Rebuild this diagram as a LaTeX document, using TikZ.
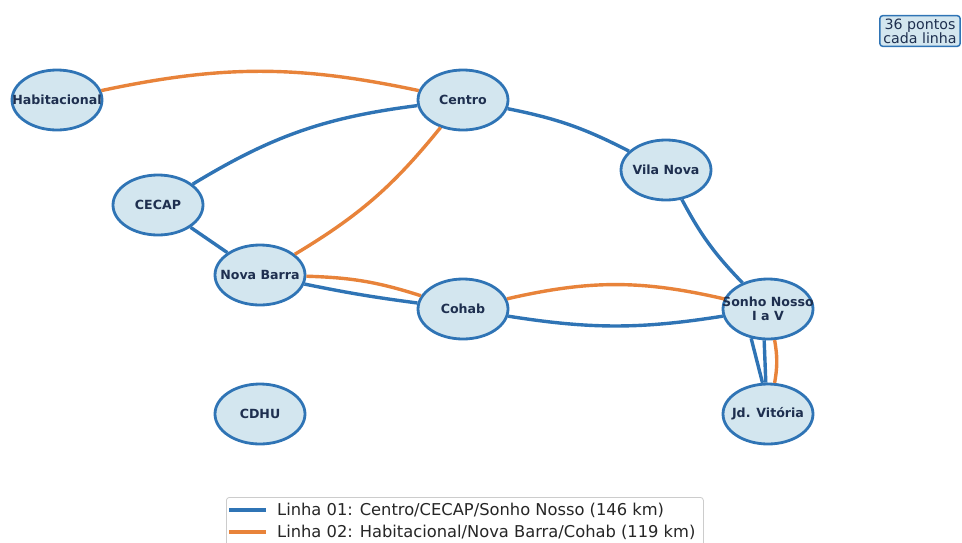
\documentclass[tikz,border=0pt]{standalone}
\usepackage{fontspec}
\setmainfont{DejaVu Sans}
\usepackage{tikz}
\usetikzlibrary{shapes.geometric}
\definecolor{edge}{HTML}{2F74B5}
\definecolor{fillc}{HTML}{D3E6EF}
\definecolor{ink}{HTML}{1E2F4F}
\definecolor{linhaA}{HTML}{2F74B5}
\definecolor{linhaB}{HTML}{E8833A}
\definecolor{frame}{HTML}{CCCCCC}
\definecolor{legink}{HTML}{262626}
\newcommand{\nome}[1]{\makebox[0pt]{#1}}
\tikzset{
  bairro/.style={ellipse, draw=edge, fill=fillc, line width=2.8pt, minimum width=90pt, minimum height=60pt, inner sep=0pt, text=ink, font=\fontsize{12.6}{14}\selectfont\bfseries, align=center},
  lineA/.style={line width=3.4pt, draw=linhaA},
  lineB/.style={line width=3.4pt, draw=linhaB},
  legbox/.style={draw=frame, fill=white, rounded corners=3pt, line width=0.8pt},
  note/.style={draw=edge, fill=fillc, rounded corners=3pt, line width=1.5pt, text=ink, font=\fontsize{14.2}{14}\selectfont, align=center, inner xsep=3.5pt, inner ysep=3pt},
  legtxt/.style={anchor=west, font=\fontsize{16.3}{16}\selectfont, text=legink, inner sep=0pt}
}

\begin{document}
\begin{tikzpicture}[x=1pt,y=1pt]
  \useasboundingbox (0,0) rectangle (962,-542);
  \clip (0,0) rectangle (962,-542);

  % bairros
  \node[bairro] (hab)   at (57,-100)  {\nome{Habitacional}};
  \node[bairro] (cen)   at (463,-100) {\nome{Centro}};
  \node[bairro] (cecap) at (158,-205) {\nome{CECAP}};
  \node[bairro] (vila)  at (666,-170) {\nome{Vila Nova}};
  \node[bairro] (nb)    at (260,-275) {\nome{Nova Barra}};
  \node[bairro] (cohab) at (463,-309) {\nome{Cohab}};
  \node[bairro] (sonho) at (768,-309) {\nome{Sonho Nosso}\\\nome{I a V}};
  \node[bairro] (cdhu)  at (260,-414) {\nome{CDHU}};
  \node[bairro] (jd)    at (768,-414) {\nome{Jd. Vitória}};

  % linha 02
  \draw[lineB] (hab) to[bend left=12] (cen);
  \draw[lineB] (cen) to[bend left=10] (nb);
  \draw[lineB] (nb) to[bend left=8] (cohab);
  \draw[lineB] (cohab) to[bend left=13] (sonho);
  \draw[lineB] (sonho.282) to[bend left=10] (jd.78);

  % linha 01
  \draw[lineA] (cecap) to[bend left=12] (cen);
  \draw[lineA] (cecap) -- (nb);
  \draw[lineA] (nb) to[bend right=2] (cohab);
  \draw[lineA] (cohab) to[bend right=9] (sonho);
  \draw[lineA] (cen) to[bend left=8] (vila);
  \draw[lineA] (vila) to[bend right=8] (sonho);
  \draw[lineA] (sonho.240) -- (jd.100);
  \draw[lineA] (sonho.263) -- (jd.94);

  \node[note] (nota) at (920,-31) {36 pontos\\cada linha};

  % legenda
  \node[legbox, minimum width=477pt, minimum height=70pt, anchor=north west] (leg) at (226,-497) {};
  \draw[lineA] (229,-510) -- (266,-510);
  \node[legtxt] (legA) at (277,-510) {Linha 01: Centro/CECAP/Sonho Nosso (146 km)};
  \draw[lineB] (229,-532) -- (266,-532);
  \node[legtxt] (legB) at (277,-532) {Linha 02: Habitacional/Nova Barra/Cohab (119 km)};
\end{tikzpicture}
\end{document}
